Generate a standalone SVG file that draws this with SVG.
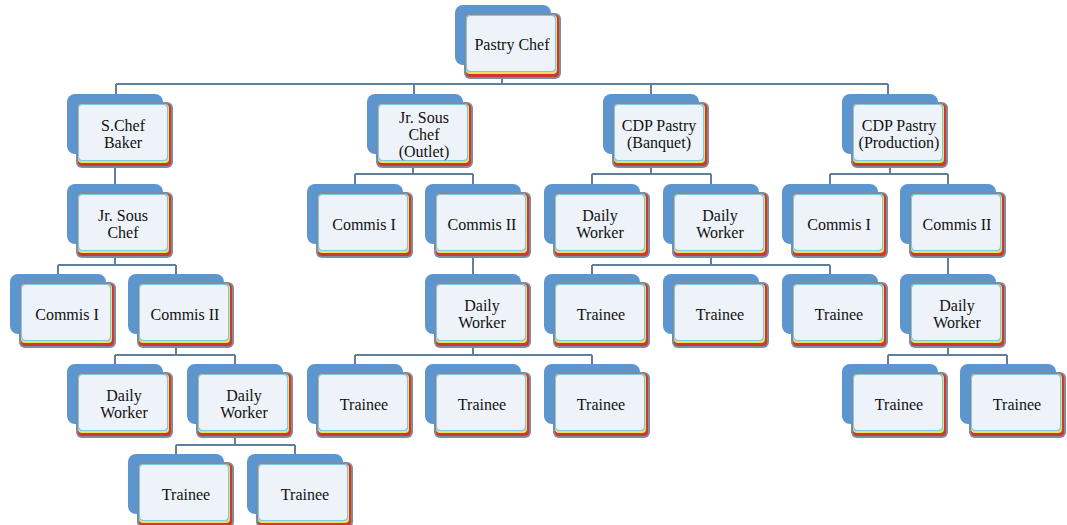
<svg xmlns="http://www.w3.org/2000/svg" xmlns:xlink="http://www.w3.org/1999/xlink" width="1067" height="525" viewBox="0 0 1067 525">
<style>
text{font-family:"Liberation Serif","Times New Roman",serif;font-size:16px;fill:#111;text-anchor:middle}
.c{fill:none;stroke:#5f7f9c;stroke-width:2}
</style>
<defs>
<symbol id="box" overflow="visible">
<rect x="0" y="0" width="96" height="60" rx="8" fill="#5b96d1"/>
<rect x="9" y="8" width="97" height="66" rx="6" fill="#7c8da0"/>
<rect x="11" y="10" width="93" height="62" rx="4" fill="#cf3636"/>
<rect x="11" y="10" width="91" height="59" rx="4" fill="#f2e05a"/>
<rect x="11" y="10" width="90" height="57" rx="4" fill="#7ec8e8"/>
<rect x="12" y="11" width="88" height="55" rx="4" fill="#eef3f9"/>
</symbol>
</defs>
<g id="connectors">
<path class="c" d="M502 79V84M116 84H888M116 84V94M414 84V94M651 84V94M888 84V94"/>
<path class="c" d="M115 168V184"/>
<path class="c" d="M413 168V174H355M413 174H473M355 174V184M473 174V184"/>
<path class="c" d="M651 168V174H592M651 174H711M592 174V184M711 174V184"/>
<path class="c" d="M890 168V174H830M890 174H948M830 174V184M948 174V184"/>
<path class="c" d="M115 258V265H58M115 265H176M58 265V274M176 265V274"/>
<path class="c" d="M473 258V274"/>
<path class="c" d="M711 258V265H592M711 265H830M592 265V274M830 265V274"/>
<path class="c" d="M948 258V274"/>
<path class="c" d="M176 348V355H115M176 355H235M115 355V364M235 355V364"/>
<path class="c" d="M473 348V355H355M473 355H592M355 355V364M592 355V364"/>
<path class="c" d="M948 348V355H888M948 355H1007M888 355V364M1007 355V364"/>
<path class="c" d="M235 438V445H176M235 445H295M176 445V454M295 445V454"/>
</g>
<g id="n0"><use href="#box" x="455" y="5"/><text x="512" y="50">Pastry Chef</text></g>
<g id="n1"><use href="#box" x="67" y="94"/><text x="123" y="131">S.Chef</text><text x="123" y="148">Baker</text></g>
<g id="n2"><use href="#box" x="367" y="94"/><text x="424" y="123">Jr. Sous</text><text x="424" y="140">Chef</text><text x="424" y="157">(Outlet)</text></g>
<g id="n3"><use href="#box" x="603" y="94"/><text x="659" y="131">CDP Pastry</text><text x="659" y="148">(Banquet)</text></g>
<g id="n4"><use href="#box" x="842" y="94"/><text x="899" y="131">CDP Pastry</text><text x="899" y="148">(Production)</text></g>
<g id="n5"><use href="#box" x="67" y="184"/><text x="123" y="221">Jr. Sous</text><text x="123" y="238">Chef</text></g>
<g id="n6"><use href="#box" x="307" y="184"/><text x="364" y="230">Commis I</text></g>
<g id="n7"><use href="#box" x="425" y="184"/><text x="482" y="230">Commis II</text></g>
<g id="n8"><use href="#box" x="544" y="184"/><text x="600" y="221">Daily</text><text x="600" y="238">Worker</text></g>
<g id="n9"><use href="#box" x="663" y="184"/><text x="720" y="221">Daily</text><text x="720" y="238">Worker</text></g>
<g id="n10"><use href="#box" x="782" y="184"/><text x="839" y="230">Commis I</text></g>
<g id="n11"><use href="#box" x="900" y="184"/><text x="957" y="230">Commis II</text></g>
<g id="n12"><use href="#box" x="10" y="274"/><text x="67" y="320">Commis I</text></g>
<g id="n13"><use href="#box" x="128" y="274"/><text x="185" y="320">Commis II</text></g>
<g id="n14"><use href="#box" x="425" y="274"/><text x="482" y="311">Daily</text><text x="482" y="328">Worker</text></g>
<g id="n15"><use href="#box" x="544" y="274"/><text x="601" y="320">Trainee</text></g>
<g id="n16"><use href="#box" x="663" y="274"/><text x="720" y="320">Trainee</text></g>
<g id="n17"><use href="#box" x="782" y="274"/><text x="839" y="320">Trainee</text></g>
<g id="n18"><use href="#box" x="900" y="274"/><text x="957" y="311">Daily</text><text x="957" y="328">Worker</text></g>
<g id="n19"><use href="#box" x="67" y="364"/><text x="124" y="401">Daily</text><text x="124" y="418">Worker</text></g>
<g id="n20"><use href="#box" x="187" y="364"/><text x="244" y="401">Daily</text><text x="244" y="418">Worker</text></g>
<g id="n21"><use href="#box" x="307" y="364"/><text x="364" y="410">Trainee</text></g>
<g id="n22"><use href="#box" x="425" y="364"/><text x="482" y="410">Trainee</text></g>
<g id="n23"><use href="#box" x="544" y="364"/><text x="601" y="410">Trainee</text></g>
<g id="n24"><use href="#box" x="842" y="364"/><text x="899" y="410">Trainee</text></g>
<g id="n25"><use href="#box" x="960" y="364"/><text x="1017" y="410">Trainee</text></g>
<g id="n26"><use href="#box" x="128" y="454"/><text x="186" y="500">Trainee</text></g>
<g id="n27"><use href="#box" x="247" y="454"/><text x="305" y="500">Trainee</text></g>
</svg>
